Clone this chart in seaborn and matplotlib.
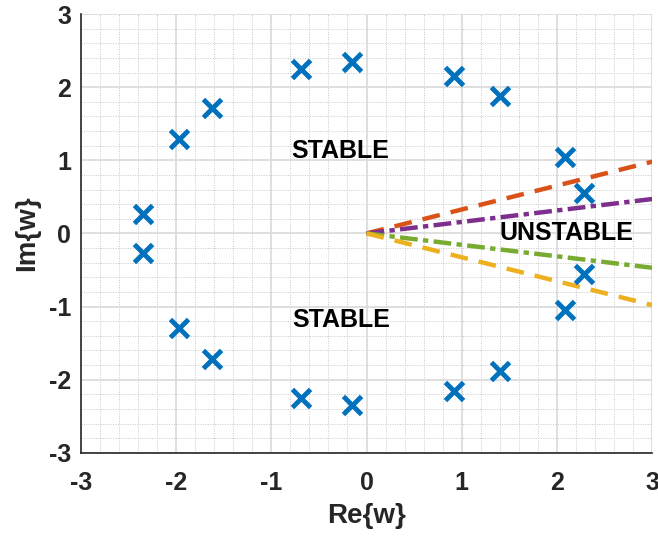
import numpy as np
import pandas as pd
import matplotlib
matplotlib.use("Agg")
import matplotlib.pyplot as plt
import seaborn as sns
from matplotlib.ticker import MultipleLocator

# Data
pole_re = [-2.35, -1.97, -1.62, -0.69, -0.15, 0.92, 1.40, 2.08, 2.28,
           -2.35, -1.97, -1.62, -0.69, -0.15, 0.92, 1.40, 2.08, 2.28]
pole_im = [0.27, 1.29, 1.72, 2.25, 2.35, 2.15, 1.88, 1.05, 0.55,
           -0.27, -1.29, -1.72, -2.25, -2.35, -2.15, -1.88, -1.05, -0.55]
line_names = ["orange", "purple", "green", "yellow"]
line_end_im = [0.98, 0.47, -0.47, -0.98]
line_x = [0, 3]
labels = ["STABLE", "STABLE", "UNSTABLE"]
label_x = [-0.28, -0.27, 2.1]
label_y = [1.13, -1.19, 0.0]

sns.set_style("white")
plt.rcParams['font.family'] = ['Liberation Sans', 'DejaVu Sans']
plt.rcParams['axes.unicode_minus'] = False

fig = plt.figure(figsize=(6.58, 5.39), dpi=100)
ax = fig.add_axes([0.123, 0.160, 0.868, 0.814])

colors = {"orange": "#D95319", "purple": "#7E2F8E", "green": "#77AC30", "yellow": "#EDB120"}
styles = {"orange": (0, (4, 2.5)), "purple": (0, (4, 1.2, 1.2, 1.2)),
          "green": (0, (4, 1.2, 1.2, 1.2)), "yellow": (0, (4, 2.5))}
for name, yend in zip(line_names, line_end_im):
    df = pd.DataFrame({"x": line_x, "y": [0, yend]})
    sns.lineplot(data=df, x="x", y="y", ax=ax, color=colors[name], lw=3.2,
                 linestyle=styles[name], zorder=3)

sns.scatterplot(x=pole_re, y=pole_im, ax=ax, marker="x", s=170, color="#0072BD",
                linewidth=3.5, zorder=4)

for t, x, y in zip(labels, label_x, label_y):
    ax.text(x, y, t, ha="center", va="center", fontsize=18, fontweight="bold", color="black", zorder=5)

ax.set_xlim(-3, 3)
ax.set_ylim(-3, 3)
ax.xaxis.set_major_locator(MultipleLocator(1))
ax.yaxis.set_major_locator(MultipleLocator(1))
ax.xaxis.set_minor_locator(MultipleLocator(0.2))
ax.yaxis.set_minor_locator(MultipleLocator(0.2))
ax.grid(which="major", color="#d9d9d9", lw=1.2, ls="-", zorder=0)
ax.grid(which="minor", color="#c8c8c8", lw=0.7, ls=(0, (1, 1.5)), zorder=0)
ax.set_axisbelow(True)
for s in ["top", "right"]:
    ax.spines[s].set_visible(False)
for s in ["left", "bottom"]:
    ax.spines[s].set_color("#262626")
    ax.spines[s].set_linewidth(1.2)
ax.tick_params(which="major", direction="in", length=5, width=1.2, color="#262626",
               labelsize=18, labelcolor="#262626")
ax.tick_params(axis="x", which="major", pad=13)
ax.tick_params(axis="y", which="major", pad=7)
ax.tick_params(which="minor", length=0)
for lab in ax.get_xticklabels() + ax.get_yticklabels():
    lab.set_fontweight("bold")
ax.set_xlabel("Re{w}", fontsize=20, fontweight="bold", color="#262626", labelpad=6)
ax.set_ylabel("Im{w}", fontsize=20, fontweight="bold", color="#262626", labelpad=6)

fig.savefig("out.png", dpi=100)
